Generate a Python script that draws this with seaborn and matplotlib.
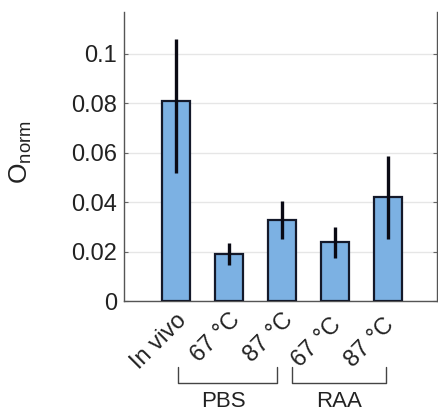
import matplotlib
matplotlib.use("Agg")
import matplotlib.pyplot as plt
import matplotlib.transforms as mtransforms
import seaborn as sns
import numpy as np
import pandas as pd

categories = ["In vivo", "67 °C", "87 °C", "67 °C ", "87 °C "]
values = [0.081, 0.019, 0.0328, 0.0239, 0.042]
err_low = [0.052, 0.0146, 0.025, 0.0174, 0.025]
err_high = [0.106, 0.0235, 0.0405, 0.030, 0.0587]
yticks = [0, 0.02, 0.04, 0.06, 0.08, 0.1]
ytick_labels = ["0", "0.02", "0.04", "0.06", "0.08", "0.1"]
groups = ["PBS", "RAA"]

sns.set_style("white")
plt.rcParams["font.family"] = ["Liberation Sans", "DejaVu Sans"]
plt.rcParams["mathtext.fontset"] = "custom"
plt.rcParams["mathtext.rm"] = "Liberation Sans"
plt.rcParams["mathtext.it"] = "Liberation Sans"

df = pd.DataFrame({"cat": categories, "val": values})

fig = plt.figure(figsize=(4.38, 4.11), dpi=100)
ax = fig.add_axes([124/438, 1 - 301/411, (437-124)/438, (301-12)/411])

sns.barplot(data=df, x="cat", y="val", ax=ax, color="#7cb1e3", saturation=1,
            width=0.53, edgecolor="#14192a", linewidth=1.6, errorbar=None, zorder=3)

x = np.arange(len(categories))
vals = np.array(values)
yerr = np.vstack([vals - np.array(err_low), np.array(err_high) - vals])
ax.errorbar(x, vals, yerr=yerr, fmt="none", ecolor="#0a0a14", elinewidth=2.4,
            capsize=0, zorder=4)

ax.set_xlim(-0.98, 4.93)
ax.set_ylim(0, 0.117)
ax.set_yticks(yticks)
ax.set_yticklabels(ytick_labels, fontsize=17, color="#222222")
ax.yaxis.grid(True, color="#e6e6e6", linewidth=1.0, zorder=0)
ax.set_axisbelow(True)

ax.set_ylabel(r"O$_{\mathrm{norm}}$", fontsize=19, color="#222222")
ax.yaxis.set_label_coords(-0.288, 0.515)
ax.set_xlabel("")

ax.set_xticks(x)
ax.set_xticklabels(categories, rotation=45, ha="right", rotation_mode="anchor",
                   fontsize=17, color="#222222")
ax.tick_params(axis="x", length=0, pad=6)
ax.tick_params(axis="y", left=True, right=True, length=3, direction="in",
               color="#666666", pad=5)

for side in ["left", "bottom", "right"]:
    ax.spines[side].set_visible(True)
    ax.spines[side].set_color("#555555")
    ax.spines[side].set_linewidth(1.0)
ax.spines["top"].set_visible(False)

trans = mtransforms.blended_transform_factory(ax.transData, ax.transAxes)
brackets = [(0.04, 1.9), (2.19, 3.96)]
label_x = [0.89, 3.09]
for (x0, x1), lx, name in zip(brackets, label_x, groups):
    ax.plot([x0, x0, x1, x1], [-0.228, -0.284, -0.284, -0.228], transform=trans,
            color="#444444", linewidth=1.0, clip_on=False)
    ax.text(lx, -0.368, name, transform=trans, ha="center", va="baseline",
            fontsize=16, color="#222222")

fig.savefig("out.png", dpi=100)
